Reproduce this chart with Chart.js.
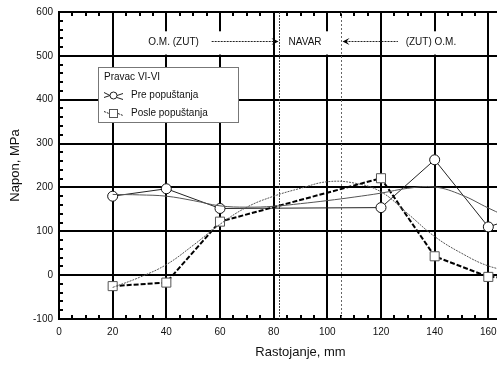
<!DOCTYPE html>
<html>
<head>
<meta charset="utf-8">
<script src="https://cdn.jsdelivr.net/npm/chart.js@4.4.1/dist/chart.umd.min.js"></script>
<style>
  html, body { margin: 0; padding: 0; background: #fff; overflow: hidden; }
  #wrap { width: 497px; height: 369px; overflow: hidden; }
</style>
</head>
<body>
<div id="wrap"><canvas id="napon" width="560" height="369"></canvas></div>
<script>
// measured points, direction VI-VI
const rastojanje = [20, 40, 60, 120, 140, 160, 180];
const prePopustanja = [180, 197, 152, 154, 263, 110, 150];
const poslePopustanja = [-25, -17, 122, 221, 43, -4, -8];

// fitted curves
const fitX = [20, 30, 40, 50, 60, 70, 80, 90, 100, 110, 120, 130, 140, 150, 160, 170, 180];
const fitPre = [184, 183, 180, 170, 158, 155, 157, 163, 170, 178, 187, 198, 201, 183, 153, 125, 100];
const fitPosle = [-28, -5, 24, 68, 116, 155, 180, 198, 213, 210, 190, 140, 88, 50, 21, 8, 0];

// weld zone borders and annotation texts
const navarOd = 82;
const navarDo = 105;
const oznake = [
  { text: "O.M. (ZUT)", x: 42.7 },
  { text: "NAVAR", x: 91.7 },
  { text: "(ZUT) O.M.", x: 138.6 }
];

const xTicks = [0, 20, 40, 60, 80, 100, 120, 140, 160, 180];
const yTicks = [-100, 0, 100, 200, 300, 400, 500, 600];

const FONT = "'Liberation Sans', Arial, sans-serif";

function pts(xs, ys) {
  return xs.map((x, i) => ({ x: x, y: ys[i] }));
}

function dottedLine(ctx, x1, y1, x2, y2, color, dash) {
  ctx.save();
  ctx.strokeStyle = color;
  ctx.lineWidth = 1;
  ctx.setLineDash(dash);
  ctx.beginPath();
  ctx.moveTo(x1, y1);
  ctx.lineTo(x2, y2);
  ctx.stroke();
  ctx.restore();
}

function arrowHead(ctx, x, y, dir) {
  ctx.save();
  ctx.fillStyle = "#000";
  ctx.beginPath();
  ctx.moveTo(x, y);
  ctx.lineTo(x - dir * 7, y - 3.5);
  ctx.lineTo(x - dir * 4, y);
  ctx.lineTo(x - dir * 7, y + 3.5);
  ctx.closePath();
  ctx.fill();
  ctx.restore();
}

const overlay = {
  id: "overlay",
  beforeDatasetsDraw(chart) {
    const ctx = chart.ctx;
    const xs = chart.scales.x, ys = chart.scales.y;
    const a = chart.chartArea;

    // white boxes behind the texts in the top band
    ctx.save();
    ctx.fillStyle = "#fff";
    const bTop = ys.getPixelForValue(556), bBot = ys.getPixelForValue(503);
    [[30, 63], [84, 104], [128, 152]].forEach(b => {
      const l = xs.getPixelForValue(b[0]), r = xs.getPixelForValue(b[1]);
      ctx.fillRect(l, bTop, r - l, bBot - bTop);
    });
    ctx.restore();

    // minor ticks
    ctx.save();
    ctx.strokeStyle = "#000";
    ctx.lineWidth = 2;
    ctx.beginPath();
    for (let v = -100; v <= 600; v += 20) {
      if (v % 100 === 0) continue;
      const y = Math.round(ys.getPixelForValue(v));
      ctx.moveTo(a.left, y); ctx.lineTo(a.left + 4, y);
    }
    for (let v = 0; v <= 180; v += 5) {
      if (v % 20 === 0) continue;
      const x = Math.round(xs.getPixelForValue(v));
      ctx.moveTo(x, a.bottom); ctx.lineTo(x, a.bottom - 4);
      ctx.moveTo(x, a.top); ctx.lineTo(x, a.top + 4);
    }
    ctx.stroke();
    ctx.restore();

    // weld zone borders
    const x1 = Math.round(xs.getPixelForValue(navarOd)) + 0.5;
    const x2 = Math.round(xs.getPixelForValue(navarDo)) + 0.5;
    dottedLine(ctx, x1, a.top, x1, a.bottom, "#444", [2, 1]);
    dottedLine(ctx, x2, a.top, x2, a.bottom, "#666", [2, 2]);

    // texts and arrows
    const ty = ys.getPixelForValue(532);
    ctx.save();
    ctx.font = "10px " + FONT;
    ctx.fillStyle = "#111";
    ctx.textAlign = "center";
    ctx.textBaseline = "middle";
    oznake.forEach(o => ctx.fillText(o.text, xs.getPixelForValue(o.x), ty));
    ctx.restore();
    const ay = Math.round(ty) - 0.5;
    dottedLine(ctx, xs.getPixelForValue(56.9), ay, x1 - 3, ay, "#222", [2, 1]);
    arrowHead(ctx, x1 - 1, ay, 1);
    dottedLine(ctx, x2 + 4, ay, xs.getPixelForValue(126.3), ay, "#222", [2, 1]);
    arrowHead(ctx, x2 + 1, ay, -1);

    // legend
    ctx.save();
    ctx.fillStyle = "#fff";
    ctx.fillRect(98, 67, 141, 56);
    ctx.strokeStyle = "#777";
    ctx.lineWidth = 1;
    ctx.strokeRect(98.5, 67.5, 140, 55);
    ctx.font = "10px " + FONT;
    ctx.fillStyle = "#111";
    ctx.textBaseline = "middle";
    ctx.fillText("Pravac VI-VI", 104, 77);
    ctx.fillText("Pre popu\u0161tanja", 131, 95);
    ctx.fillText("Posle popu\u0161tanja", 131, 113);

    ctx.strokeStyle = "#222";
    ctx.beginPath();
    ctx.moveTo(104, 92.5); ctx.lineTo(110, 95.5);
    ctx.moveTo(104, 97.5); ctx.lineTo(110, 95.5);
    ctx.moveTo(117, 95.5); ctx.lineTo(123, 93.5);
    ctx.moveTo(117, 97.5); ctx.lineTo(123, 99.5);
    ctx.stroke();
    ctx.fillStyle = "#fff";
    ctx.beginPath();
    ctx.arc(113.5, 95.5, 3.5, 0, Math.PI * 2);
    ctx.fill(); ctx.stroke();

    ctx.setLineDash([2, 1]);
    ctx.beginPath();
    ctx.moveTo(104, 111.5); ctx.lineTo(109, 113.5);
    ctx.moveTo(118, 113.5); ctx.lineTo(123, 115.5);
    ctx.stroke();
    ctx.setLineDash([]);
    ctx.strokeStyle = "#555";
    ctx.fillRect(109.5, 109.5, 8, 8);
    ctx.strokeRect(109.5, 109.5, 8, 8);
    ctx.restore();
  },
  afterDraw(chart) {
    const ctx = chart.ctx;
    const a = chart.chartArea;
    ctx.save();
    ctx.font = "13px " + FONT;
    ctx.fillStyle = "#111";
    ctx.textAlign = "center";
    ctx.textBaseline = "middle";
    ctx.fillText("Rastojanje, mm", (a.left + a.right) / 2, 352);
    ctx.translate(15, (a.top + a.bottom) / 2);
    ctx.rotate(-Math.PI / 2);
    ctx.fillText("Napon, MPa", 0, 0);
    ctx.restore();
  }
};

new Chart(document.getElementById("napon"), {
  type: "line",
  data: {
    datasets: [
      {
        label: "fit pre",
        data: pts(fitX, fitPre),
        borderColor: "#555",
        borderWidth: 1,
        pointRadius: 0,
        tension: 0.4
      },
      {
        label: "fit posle",
        data: pts(fitX, fitPosle),
        borderColor: "#555",
        borderWidth: 1,
        borderDash: [2, 1],
        pointRadius: 0,
        tension: 0.4
      },
      {
        label: "Posle popuštanja",
        data: pts(rastojanje, poslePopustanja),
        borderColor: "#000",
        borderWidth: 2,
        borderDash: [5, 2],
        pointStyle: "rect",
        pointRadius: 6.4,
        pointBorderWidth: 1,
        pointBorderColor: "#555",
        pointBackgroundColor: "#fff",
        tension: 0
      },
      {
        label: "Pre popuštanja",
        data: pts(rastojanje, prePopustanja),
        borderColor: "#222",
        borderWidth: 1,
        pointStyle: "circle",
        pointRadius: 5,
        pointBorderWidth: 1,
        pointBorderColor: "#111",
        pointBackgroundColor: "#fff",
        tension: 0
      }
    ]
  },
  options: {
    responsive: false,
    animation: false,
    devicePixelRatio: 1,
    layout: { padding: { top: 10, right: 18, left: 0, bottom: 0 } },
    plugins: {
      legend: { display: false },
      tooltip: { enabled: false }
    },
    scales: {
      x: {
        type: "linear",
        min: 0,
        max: 180,
        afterFit: s => { s.height = 50; },
        afterBuildTicks: s => { s.ticks = xTicks.map(v => ({ value: v })); },
        grid: { color: "#000", lineWidth: 2, drawTicks: false },
        border: { color: "#000", width: 2 },
        ticks: { padding: 7, color: "#111", font: { family: FONT, size: 10 }, maxRotation: 0 }
      },
      y: {
        type: "linear",
        min: -100,
        max: 600,
        afterFit: s => { s.width = 59; },
        afterBuildTicks: s => { s.ticks = yTicks.map(v => ({ value: v })); },
        grid: { color: "#000", lineWidth: 2, drawTicks: false },
        border: { color: "#000", width: 2 },
        ticks: { padding: 6, color: "#111", font: { family: FONT, size: 10 } }
      }
    }
  },
  plugins: [overlay]
});
</script>
</body>
</html>
